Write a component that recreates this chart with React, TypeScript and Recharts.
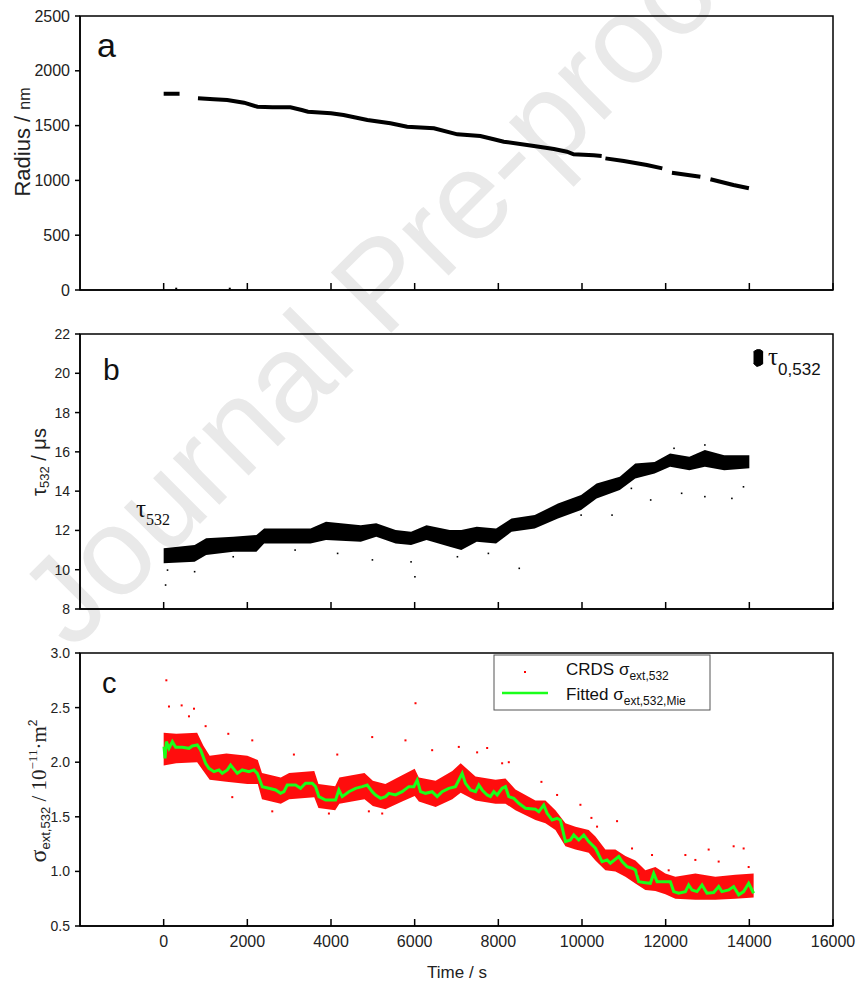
import React from 'react';
import { ComposedChart, Line, Area, Scatter, XAxis, YAxis, ReferenceArea } from 'recharts';

const SANS = '"Liberation Sans", Arial, Helvetica, sans-serif';
const SERIF = '"Liberation Serif", "Times New Roman", serif';

// shared axis ticks
const timeTicks = [0, 2000, 4000, 6000, 8000, 10000, 12000, 14000, 16000];
const radiusTicks = [0, 500, 1000, 1500, 2000, 2500];
const tauTicks = [8, 10, 12, 14, 16, 18, 20, 22];
const sigmaTicks = [0.5, 1.0, 1.5, 2.0, 2.5, 3.0];

// (a) droplet radius, null = gap in the record
const radiusTime = [0, 380, 600, 820, 1200, 1520, 1920, 2240, 2600, 3030, 3300, 3450, 4000, 4300, 4870, 5420, 5820, 6460, 7020, 7570, 7890, 8130, 8850, 9330, 9640, 9800, 10280, 10470, 10500, 10560, 11000, 11550, 11920, 12030, 12150, 12830, 12950, 13070, 13620, 13990];
const radiusValue = [1790, 1790, null, 1749, 1740, 1734, 1709, 1672, 1668, 1667, 1642, 1627, 1612, 1597, 1551, 1521, 1490, 1475, 1420, 1405, 1375, 1353, 1314, 1287, 1262, 1238, 1229, 1222, null, 1201, 1177, 1140, 1110, null, 1070, 1034, null, 1010, 958, 928];
const radiusStrayTime = [300, 1580];
const radiusStrayValue = [12, 12];

// (b) ring-down time, dense cloud as low/high envelope
const tauTime = [0, 740, 1016, 1663, 2218, 2402, 3511, 3880, 4712, 5082, 5544, 5914, 6283, 6838, 7115, 7484, 7946, 8316, 8870, 9425, 9979, 10349, 10903, 11273, 11735, 12105, 12567, 12937, 13399, 14000];
const tauLow = [10.33, 10.41, 10.75, 10.92, 10.92, 11.34, 11.34, 11.51, 11.43, 11.68, 11.34, 11.26, 11.51, 11.17, 11.0, 11.43, 11.34, 11.93, 12.1, 12.61, 13.04, 13.63, 14.06, 14.65, 14.9, 15.24, 15.07, 15.24, 15.07, 15.16];
const tauHigh = [11.09, 11.26, 11.6, 11.68, 11.77, 12.1, 12.1, 12.44, 12.27, 12.36, 12.02, 11.93, 12.27, 12.02, 12.02, 12.19, 12.1, 12.61, 12.78, 13.37, 13.8, 14.39, 14.73, 15.41, 15.49, 15.92, 15.75, 16.09, 15.83, 15.83];
const tauOutTime = [46, 92, 740, 1663, 3142, 4158, 4990, 5914, 6006, 7022, 7762, 8500, 9979, 10718, 11180, 11642, 12382, 12937, 13583, 13860, 12937, 12200];
const tauOutValue = [9.22, 9.98, 9.9, 10.66, 11.0, 10.83, 10.5, 10.4, 9.64, 10.66, 10.83, 10.07, 12.78, 12.78, 14.14, 13.55, 13.89, 13.72, 13.63, 14.22, 16.35, 16.18];
const tau0Time = [14100, 14180, 14260, 14330];
const tau0Low = [20.5, 20.35, 20.4, 20.5];
const tau0High = [21.1, 21.2, 21.2, 21.1];

// (c) extinction cross section
const sigmaTime = [0, 300, 800, 950, 1100, 1500, 2000, 2250, 2350, 2800, 3000, 3600, 3700, 4100, 4200, 4800, 5000, 5300, 5700, 6000, 6100, 6500, 6900, 7100, 7454, 7932, 8171, 8409, 8887, 9126, 9365, 9604, 9843, 10161, 10321, 10559, 10798, 11037, 11276, 11515, 11754, 11993, 12232, 12710, 13187, 13665, 14103];
const sigmaLow = [1.97, 1.99, 2.0, 1.92, 1.84, 1.82, 1.8, 1.8, 1.66, 1.62, 1.66, 1.68, 1.58, 1.56, 1.62, 1.66, 1.6, 1.57, 1.64, 1.69, 1.64, 1.59, 1.66, 1.72, 1.65, 1.62, 1.62, 1.56, 1.47, 1.44, 1.38, 1.23, 1.2, 1.17, 1.1, 1.01, 1.0, 0.95, 0.89, 0.83, 0.82, 0.79, 0.75, 0.74, 0.74, 0.75, 0.76];
const sigmaHigh = [2.27, 2.26, 2.27, 2.15, 2.06, 2.08, 2.06, 2.02, 1.9, 1.86, 1.9, 1.92, 1.8, 1.78, 1.86, 1.9, 1.83, 1.8, 1.88, 1.94, 1.86, 1.83, 1.92, 1.99, 1.87, 1.84, 1.85, 1.75, 1.65, 1.65, 1.56, 1.44, 1.41, 1.38, 1.32, 1.2, 1.2, 1.14, 1.1, 1.01, 1.04, 0.98, 0.95, 0.98, 0.95, 0.97, 0.98];
const sigmaOutTime = [64, 127, 430, 605, 725, 1003, 1545, 1640, 2118, 2596, 3113, 3950, 4150, 4905, 4985, 5224, 5780, 6020, 6418, 7055, 7493, 7733, 8091, 8250, 9030, 9405, 9962, 10225, 10360, 10838, 11196, 11356, 11674, 12072, 12471, 12710, 13028, 13267, 13625, 13864, 13984];
const sigmaOutValue = [2.75, 2.51, 2.52, 2.42, 2.49, 2.33, 2.26, 1.68, 2.2, 1.55, 2.07, 1.53, 2.07, 1.55, 2.23, 1.53, 2.2, 2.54, 2.11, 2.14, 2.09, 2.13, 1.99, 2.0, 1.82, 1.7, 1.61, 1.49, 1.41, 1.46, 1.21, 0.98, 1.15, 1.01, 1.15, 1.105, 1.2, 1.09, 1.23, 1.21, 1.04];
const fitTime = [8, 32, 64, 127, 207, 287, 446, 605, 685, 804, 884, 1003, 1083, 1202, 1322, 1401, 1521, 1600, 1760, 1879, 2039, 2158, 2238, 2357, 2516, 2676, 2795, 2875, 2954, 3153, 3273, 3392, 3551, 3631, 3711, 3870, 4109, 4188, 4268, 4427, 4587, 4746, 4866, 4985, 5065, 5184, 5304, 5383, 5542, 5702, 5860, 5980, 6060, 6140, 6259, 6418, 6538, 6657, 6816, 6975, 7096, 7136, 7215, 7335, 7454, 7534, 7613, 7733, 7812, 7892, 7972, 8091, 8171, 8250, 8370, 8489, 8648, 8887, 8967, 9086, 9166, 9285, 9405, 9484, 9604, 9723, 9803, 9922, 10042, 10161, 10321, 10480, 10600, 10679, 10878, 10958, 11077, 11196, 11276, 11356, 11515, 11634, 11714, 11794, 11993, 12112, 12192, 12311, 12471, 12550, 12630, 12749, 12869, 12988, 13147, 13267, 13346, 13506, 13625, 13745, 13864, 13984, 14103];
const fitValue = [2.142, 2.036, 2.188, 2.127, 2.188, 2.136, 2.136, 2.127, 2.149, 2.158, 2.112, 1.99, 1.944, 1.913, 1.929, 1.898, 1.929, 1.974, 1.898, 1.929, 1.913, 1.929, 1.898, 1.776, 1.761, 1.746, 1.715, 1.73, 1.791, 1.791, 1.761, 1.807, 1.807, 1.776, 1.685, 1.654, 1.654, 1.746, 1.685, 1.73, 1.761, 1.776, 1.791, 1.73, 1.7, 1.669, 1.685, 1.715, 1.7, 1.73, 1.776, 1.776, 1.837, 1.73, 1.715, 1.73, 1.685, 1.73, 1.761, 1.776, 1.867, 1.898, 1.806, 1.746, 1.73, 1.791, 1.746, 1.7, 1.685, 1.73, 1.7, 1.761, 1.776, 1.685, 1.669, 1.624, 1.578, 1.569, 1.547, 1.608, 1.532, 1.471, 1.486, 1.471, 1.273, 1.288, 1.334, 1.288, 1.334, 1.273, 1.212, 1.09, 1.105, 1.075, 1.136, 1.09, 1.044, 1.029, 1.013, 0.906, 0.897, 0.891, 0.983, 0.906, 0.906, 0.906, 0.815, 0.8, 0.815, 0.876, 0.83, 0.815, 0.876, 0.8, 0.806, 0.861, 0.815, 0.83, 0.861, 0.785, 0.815, 0.891, 0.8];

// join several (time, value) lists into one row table keyed by time
const mergeByTime = (...parts: [string, number[], any[]][]) => {
  const rows = new Map<number, any>();
  parts.forEach(([key, ts, vs]) => {
    ts.forEach((t, i) => {
      const row = rows.get(t) ?? { t };
      row[key] = vs[i];
      rows.set(t, row);
    });
  });
  return [...rows.values()].sort((a, b) => a.t - b.t);
};
const points = (ts: number[], vs: number[]) => ts.map((t, i) => ({ t, v: vs[i] }));

const radiusRows = mergeByTime(['r', radiusTime, radiusValue]);
const tauRows = mergeByTime(
  ['band', tauTime, tauTime.map((_, i) => [tauLow[i], tauHigh[i]])],
  ['blob', tau0Time, tau0Time.map((_, i) => [tau0Low[i], tau0High[i]])],
);
const sigmaRows = mergeByTime(
  ['band', sigmaTime, sigmaTime.map((_, i) => [sigmaLow[i], sigmaHigh[i]])],
  ['fit', fitTime, fitValue],
);

const axisStroke = { stroke: '#000', strokeWidth: 1.5 };

// x ticks point inward (up); labels only on the bottom panel
const makeXTick = (showLabel: boolean) => (props: any) => {
  const { x, y, payload } = props;
  return (
    <g>
      <line x1={x} x2={x} y1={y} y2={y - 7} stroke="#000" strokeWidth={1.5} />
      {showLabel && (
        <text x={x} y={y + 21} textAnchor="middle" fontSize={16} fill="#222" fontFamily={SANS}>
          {payload.value}
        </text>
      )}
    </g>
  );
};

const dotShape = (color: string, size: number) => (p: any) => (
  <rect x={p.cx - size / 2} y={p.cy - size / 2} width={size} height={size} fill={color} />
);

const nb = '\u00a0';

export default function App() {
  return (
    <div style={{ position: 'absolute', left: 0, top: 0, width: 858, height: 986, background: '#fff', fontFamily: SANS }}>
      {/* watermark */}
      <svg width={858} height={986} style={{ position: 'absolute', left: 0, top: 0 }}>
        <text x={72} y={652} transform="rotate(-45 72 652)" fontSize={124} fill="#e9e9e9" fontFamily={SANS}>
          Journal Pre-proof
        </text>
      </svg>

      {/* (a) */}
      <div style={{ position: 'absolute', left: 0, top: 0 }}>
        <ComposedChart width={858} height={310} data={radiusRows} margin={{ top: 16, right: 25, bottom: 0, left: 0 }}>
          <XAxis dataKey="t" type="number" domain={[-2000, 16000]} ticks={timeTicks} interval={0} height={20}
            tickSize={0} tickMargin={0} tickLine={false} axisLine={axisStroke} tick={makeXTick(false)} />
          <YAxis type="number" domain={[0, 2500]} ticks={radiusTicks} interval={0} width={80} tickSize={5} tickMargin={5}
            tickLine={axisStroke} axisLine={axisStroke} tick={{ fontSize: 16, fill: '#222', fontFamily: SANS }} />
          <ReferenceArea x1={-2000} x2={16000} y1={0} y2={2500} fill="none" stroke="#000" strokeWidth={1.5} />
          <Line dataKey="r" type="linear" stroke="#000" strokeWidth={4} dot={false} activeDot={false}
            connectNulls={false} isAnimationActive={false} />
          <Scatter data={points(radiusStrayTime, radiusStrayValue)} dataKey="v" shape={dotShape('#000', 2)} isAnimationActive={false} />
        </ComposedChart>
      </div>

      {/* (b) */}
      <div style={{ position: 'absolute', left: 0, top: 310 }}>
        <ComposedChart width={858} height={310} data={tauRows} margin={{ top: 24, right: 25, bottom: 0, left: 0 }}>
          <XAxis dataKey="t" type="number" domain={[-2000, 16000]} ticks={timeTicks} interval={0} height={11}
            tickSize={0} tickMargin={0} tickLine={false} axisLine={axisStroke} tick={makeXTick(false)} />
          <YAxis type="number" domain={[8, 22]} ticks={tauTicks} interval={0} width={80} tickSize={5} tickMargin={5}
            tickLine={axisStroke} axisLine={axisStroke} tick={{ fontSize: 14, fill: '#222', fontFamily: SANS }} />
          <ReferenceArea x1={-2000} x2={16000} y1={8} y2={22} fill="none" stroke="#000" strokeWidth={1.5} />
          <Area dataKey="band" type="linear" stroke="none" fill="#000" fillOpacity={1}
            dot={false} activeDot={false} connectNulls={false} isAnimationActive={false} />
          <Area dataKey="blob" type="linear" stroke="#000" strokeWidth={1} fill="#000" fillOpacity={1}
            dot={false} activeDot={false} connectNulls={false} isAnimationActive={false} />
          <Scatter data={points(tauOutTime, tauOutValue)} dataKey="v" shape={dotShape('#000', 1.6)} isAnimationActive={false} />
        </ComposedChart>
      </div>

      {/* (c) */}
      <div style={{ position: 'absolute', left: 0, top: 620 }}>
        <ComposedChart width={858} height={366} data={sigmaRows} margin={{ top: 33, right: 25, bottom: 20, left: 0 }}>
          <XAxis dataKey="t" type="number" domain={[-2000, 16000]} ticks={timeTicks} interval={0} height={40}
            tickSize={0} tickMargin={0} tickLine={false} axisLine={axisStroke} tick={makeXTick(true)} />
          <YAxis type="number" domain={[0.5, 3.0]} ticks={sigmaTicks} interval={0} width={80} tickSize={5} tickMargin={5}
            tickLine={axisStroke} axisLine={axisStroke} tickFormatter={(v: number) => v.toFixed(1)}
            tick={{ fontSize: 14, fill: '#222', fontFamily: SANS }} />
          <ReferenceArea x1={-2000} x2={16000} y1={0.5} y2={3.0} fill="none" stroke="#000" strokeWidth={1.5} />
          <Area dataKey="band" type="linear" stroke="none" fill="#ff0000" fillOpacity={0.95}
            dot={false} activeDot={false} connectNulls isAnimationActive={false} />
          <Scatter data={points(sigmaOutTime, sigmaOutValue)} dataKey="v" shape={dotShape('#ff0000', 2)} isAnimationActive={false} />
          <Line dataKey="fit" type="linear" stroke="#1aff1a" strokeWidth={3} dot={false} activeDot={false}
            connectNulls isAnimationActive={false} />
        </ComposedChart>
      </div>

      {/* titles, annotations, legend */}
      <svg width={858} height={986} style={{ position: 'absolute', left: 0, top: 0, pointerEvents: 'none' }}>
        <text x={97} y={57} fontSize={34} fill="#111" fontFamily={SANS}>a</text>
        <text x={103} y={380} fontSize={30} fill="#111" fontFamily={SANS}>b</text>
        <text x={102} y={693} fontSize={29} fill="#111" fontFamily={SANS}>c</text>

        <text transform="translate(30,142) rotate(-90)" textAnchor="middle" fontSize={22} fill="#222" fontFamily={SANS}>
          {`Radius /${nb}`}<tspan fontSize={16}>nm</tspan>
        </text>
        <text transform="translate(46,462) rotate(-90)" textAnchor="middle" fontSize={20} fill="#222" fontFamily={SANS}>
          τ<tspan fontSize={13} dy={3}>532</tspan><tspan dy={-3}>{`${nb}/${nb}μs`}</tspan>
        </text>
        <text transform="translate(46,791) rotate(-90)" textAnchor="middle" fill="#222">
          <tspan fontFamily={SERIF} fontSize={24}>σ</tspan>
          <tspan fontFamily={SANS} fontSize={13} dy={4}>ext,532</tspan>
          <tspan fontFamily={SERIF} fontSize={21} dy={-4}>{`${nb}/${nb}10`}</tspan>
          <tspan fontFamily={SERIF} fontSize={13} dy={-9}>−11</tspan>
          <tspan fontFamily={SERIF} fontSize={21} dy={9}>·m</tspan>
          <tspan fontFamily={SANS} fontSize={12} dy={-9}>2</tspan>
        </text>

        <text x={136} y={517} fontSize={25} fill="#111" fontFamily={SERIF}>
          τ<tspan fontSize={16} dy={8}>532</tspan>
        </text>
        <text x={768} y={365} fontSize={25} fill="#111" fontFamily={SERIF}>
          τ<tspan fontFamily={SANS} fontSize={17} dy={10}>0,532</tspan>
        </text>

        <text x={457} y={978} textAnchor="middle" fontSize={17} fill="#222" fontFamily={SANS}>Time / s</text>

        <rect x={494} y={655} width={216} height={55} fill="#fff" stroke="#555" strokeWidth={1} />
        <rect x={524} y={671} width={2} height={2} fill="#ff0000" />
        <line x1={502} x2={548} y1={693} y2={693} stroke="#1aff1a" strokeWidth={2.5} />
        <text x={566} y={675} fontSize={17} fill="#111" fontFamily={SANS}>
          {`CRDS${nb}σ`}<tspan fontSize={12} dy={5}>ext,532</tspan>
        </text>
        <text x={566} y={700} fontSize={17} fill="#111" fontFamily={SANS}>
          {`Fitted${nb}σ`}<tspan fontSize={12} dy={5}>ext,532,Mie</tspan>
        </text>
      </svg>
    </div>
  );
}
